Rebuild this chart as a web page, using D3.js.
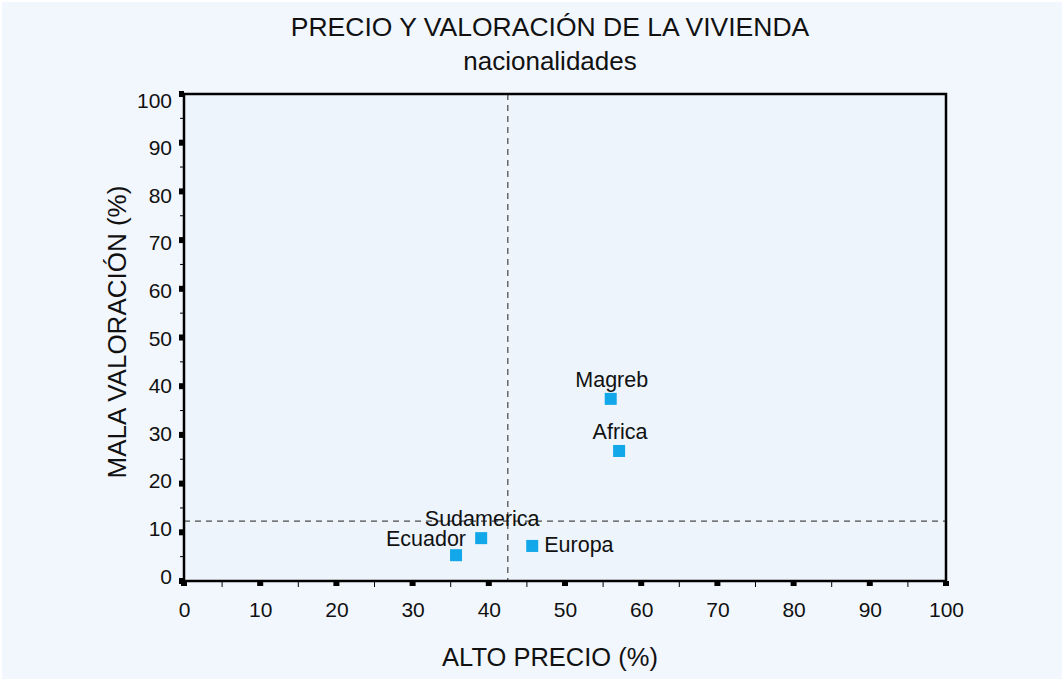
<!DOCTYPE html>
<html lang="es">
<head>
<meta charset="utf-8">
<title>Precio y valoración de la vivienda</title>
<script src="https://d3js.org/d3.v7.min.js"></script>
<style>
body { margin: 0; background: #f2f7fe; }
svg { display: block; font-family: "Liberation Sans", Arial, sans-serif; }
</style>
</head>
<body>
<script>
// data
const groups = ["Magreb", "Africa", "Sudamerica", "Ecuador", "Europa"];
const altoPrecio = [56.0, 57.1, 39.0, 35.7, 45.7];
const malaValoracion = [37.4, 26.7, 8.8, 5.3, 7.2];
const labelPos = ["top", "top", "top", "topleft", "right"];
const meanPrecio = 42.5;
const meanValoracion = 12.3;
const ticks = [0, 10, 20, 30, 40, 50, 60, 70, 80, 90, 100];
const minorTicks = [5, 15, 25, 35, 45, 55, 65, 75, 85, 95];

const svgWidth = 1064, svgHeight = 681;
const plotLeft = 184, plotRight = 946, plotTop = 94, plotBottom = 581;

const svg = d3.select("body").append("svg")
  .attr("width", svgWidth).attr("height", svgHeight);

svg.append("rect").attr("x", 1).attr("y", 1)
  .attr("width", svgWidth - 2).attr("height", svgHeight - 2)
  .attr("fill", "#f2f7fe").attr("stroke", "#ffffff").attr("stroke-width", 2);

const x = d3.scaleLinear().domain([0, 100]).range([plotLeft, plotRight]);
const y = d3.scaleLinear().domain([0, 100]).range([plotBottom, plotTop]);
// the y tick labels sit on a slightly shorter span than the ticks themselves
const yLabel = d3.scaleLinear().domain([0, 100]).range([576, 100]);

// plot area
svg.append("rect")
  .attr("x", plotLeft).attr("y", plotTop)
  .attr("width", plotRight - plotLeft).attr("height", plotBottom - plotTop)
  .attr("fill", "#edf4fc");

// mean lines
svg.append("line")
  .attr("x1", x(meanPrecio)).attr("x2", x(meanPrecio))
  .attr("y1", plotTop).attr("y2", plotBottom)
  .attr("stroke", "#222").attr("stroke-dasharray", "6,5");
svg.append("line")
  .attr("x1", plotLeft).attr("x2", plotRight)
  .attr("y1", y(meanValoracion)).attr("y2", y(meanValoracion))
  .attr("stroke", "#222").attr("stroke-dasharray", "6,5");

// frame
svg.append("rect")
  .attr("x", plotLeft).attr("y", plotTop)
  .attr("width", plotRight - plotLeft).attr("height", plotBottom - plotTop)
  .attr("fill", "none").attr("stroke", "#000").attr("stroke-width", 2.5);

// x axis
const xAxis = svg.append("g").attr("transform", "translate(0," + plotBottom + ")");
xAxis.call(d3.axisBottom(x).tickValues(ticks).tickSize(0).tickPadding(21).tickFormat(d3.format("d")));
xAxis.select(".domain").remove();
xAxis.selectAll("text").attr("font-size", 21).attr("fill", "#111").attr("font-family", "Liberation Sans, Arial, sans-serif");
xAxis.selectAll(".major").data(ticks).join("rect")
  .attr("x", d => x(d) - 3).attr("y", 0).attr("width", 6).attr("height", 5).attr("fill", "#000");
xAxis.selectAll(".minor").data(minorTicks).join("line")
  .attr("x1", d => x(d)).attr("x2", d => x(d)).attr("y1", 0).attr("y2", 6)
  .attr("stroke", "#000").attr("stroke-width", 1);

// y axis: ticks on y, labels on yLabel
const yAxis = svg.append("g").attr("transform", "translate(" + plotLeft + ",0)");
yAxis.selectAll(".lab").data(ticks).join("text")
  .attr("x", -12).attr("y", d => yLabel(d)).attr("dy", "0.36em")
  .attr("text-anchor", "end").attr("font-size", 21).attr("fill", "#111")
  .text(d3.format("d"));
yAxis.selectAll(".major").data(ticks).join("rect")
  .attr("x", -5).attr("y", d => y(d) - 3).attr("width", 5).attr("height", 6).attr("fill", "#000");
yAxis.selectAll(".minor").data(minorTicks).join("line")
  .attr("x1", -4).attr("x2", 0).attr("y1", d => y(d)).attr("y2", d => y(d))
  .attr("stroke", "#000").attr("stroke-width", 1);

// points
const pts = groups.map((g, i) => ({ name: g, px: altoPrecio[i], py: malaValoracion[i], pos: labelPos[i] }));
svg.selectAll(".pt").data(pts).join("rect")
  .attr("x", d => x(d.px) - 6).attr("y", d => y(d.py) - 6)
  .attr("width", 12).attr("height", 12)
  .attr("fill", "#12a7e8");

svg.selectAll(".lbl").data(pts).join("text")
  .attr("x", d => d.pos === "right" ? x(d.px) + 12 : d.pos === "topleft" ? x(d.px) + 10 : x(d.px) + 1)
  .attr("y", d => d.pos === "right" ? y(d.py) + 6 : d.pos === "topleft" ? y(d.py) - 9 : y(d.py) - 12)
  .attr("text-anchor", d => d.pos === "right" ? "start" : d.pos === "topleft" ? "end" : "middle")
  .attr("font-size", 21.5).attr("fill", "#111")
  .text(d => d.name);

// titles
svg.append("text").attr("x", 550).attr("y", 36).attr("text-anchor", "middle")
  .attr("font-size", 26.5).attr("fill", "#111").text("PRECIO Y VALORACIÓN DE LA VIVIENDA");
svg.append("text").attr("x", 550).attr("y", 70).attr("text-anchor", "middle")
  .attr("font-size", 26).attr("fill", "#111").text("nacionalidades");
svg.append("text").attr("x", 550).attr("y", 666).attr("text-anchor", "middle")
  .attr("font-size", 25.5).attr("fill", "#111").text("ALTO PRECIO (%)");
svg.append("text").attr("transform", "translate(126,332) rotate(-90)").attr("text-anchor", "middle")
  .attr("font-size", 26).attr("fill", "#111").text("MALA VALORACIÓN (%)");
</script>
</body>
</html>
